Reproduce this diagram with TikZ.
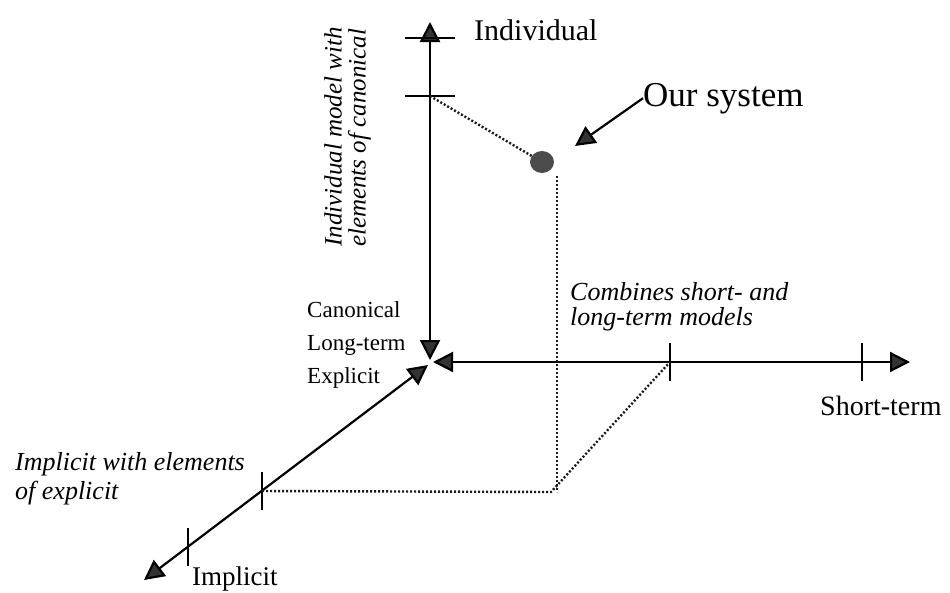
\documentclass[tikz,border=0pt]{standalone}
\usepackage{fontspec}
\setmainfont{Liberation Serif}
\usetikzlibrary{arrows.meta,shapes.geometric}
\newcommand{\fs}[2]{\fontsize{#1pt}{#2pt}\selectfont}
\tikzset{
    >={Triangle[length=20pt,width=20pt,fill=black!80]},
    axis/.style={line width=2.2pt},
    tickmark/.style={line width=1.8pt},
    guide/.style={line width=2.4pt, dash pattern=on 2pt off 2pt, black!90},
    lbl/.style={inner sep=0pt, align=left},
}

\begin{document}
\begin{tikzpicture}[x=1pt,y=-1pt]
\useasboundingbox (0,0) rectangle (950,592);
% axis ends
\coordinate (vtop) at (430,22);
\coordinate (vend) at (430,360);
\coordinate (hend) at (433,362);
\coordinate (hright) at (910,362);
\coordinate (dend) at (428,365);
\coordinate (dlow) at (144,580);
% tick points
\coordinate (v1) at (430,38);
\coordinate (v2) at (430,96);
\coordinate (h1) at (670,362);
\coordinate (h2) at (862,362);
\coordinate (d1) at (262,491);
\coordinate (d2) at (188,547);
% draw axes
\draw[axis,<->] (vend) -- (vtop);
\draw[axis,<->] (hend) -- (hright);
\draw[axis,<->] (dend) -- (dlow);
% draw ticks
\foreach \t in {v1,v2}
    \draw[tickmark] (\t) ++(-25,0) -- ++(50,0);
\foreach \t in {h1,h2,d1,d2}
    \draw[tickmark] (\t) ++(0,-19) -- ++(0,38);
% our system
\node[ellipse, fill=black!70, minimum width=24pt, minimum height=22pt, inner sep=0pt] (sys) at (542,162) {};
\node[lbl, anchor=base west, font=\fs{35}{40}] (oursys) at (643,106) {Our system};
\coordinate (systip) at (575,146);
\draw[axis,->] (oursys.west) -- (systip);
% dotted guides
\coordinate (drop) at (557,176);
\coordinate (floor) at (557,492);
\coordinate (bend) at (551,492);
\draw[guide] (v2) -- (sys);
\draw[guide] (drop) -- (floor);
\draw[guide] (d1) -- (bend) -- (h1);
% axis labels
\node[lbl, anchor=base west, font=\fs{30}{34}] (indiv) at (474,40) {Individual};
\node[lbl, anchor=base west, font=\fs{28}{32}] (short) at (820,415) {Short-term};
\node[lbl, anchor=base west, font=\fs{27}{31}] (impl) at (192,585) {Implicit};
\node[lbl, anchor=north west, font=\fs{23}{33}] (canon) at (307,301) {Canonical\\Long-term\\Explicit};
% intermediate labels
\node[lbl, anchor=north west, font=\fs{26}{25}\itshape] (mixed) at (570,282) {Combines short- and\\long-term models};
\node[lbl, anchor=north west, font=\fs{26}{29}\itshape] (partial) at (15,452) {Implicit with elements\\of explicit};
\node[lbl, anchor=north west, rotate=90, font=\fs{25}{24}\itshape] (blend) at (324,247) {Individual model with\\elements of canonical};
\end{tikzpicture}
\end{document}
